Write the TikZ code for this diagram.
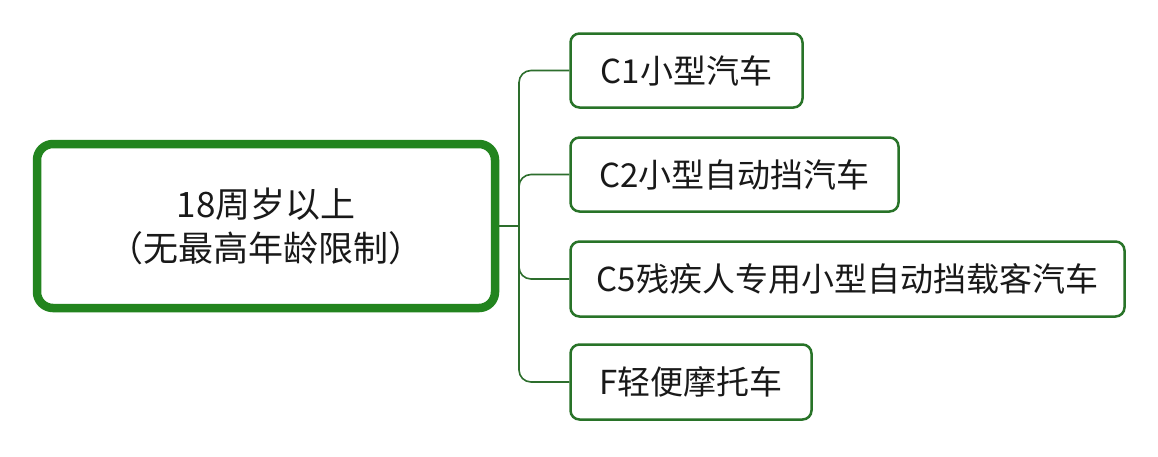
\documentclass[tikz,border=0pt]{standalone}
\usepackage{fontspec}
\setmainfont{Noto Sans CJK SC}
\definecolor{rootgreen}{RGB}{34,132,30}
\definecolor{leafgreen}{RGB}{40,115,40}
\definecolor{linkgreen}{RGB}{45,110,45}
\definecolor{txt}{RGB}{25,25,25}
\tikzset{
  rootbox/.style={draw=rootgreen, line width=8.5pt, rounded corners=16pt, fill=white,
    text=txt, align=center, font=\fontsize{35}{44}\selectfont, inner sep=0pt},
  leafbox/.style={draw=leafgreen, line width=2.5pt, rounded corners=9pt, fill=white,
    text=txt, font=\fontsize{33}{38}\selectfont, inner sep=0pt},
  conn/.style={draw=linkgreen, line width=1.6pt, rounded corners=12pt},
}
\begin{document}
\begin{tikzpicture}[x=1pt,y=-1pt]
\fill[white] (0,0) rectangle (1158,456);
\useasboundingbox (0,0) rectangle (1158,456);
\node[rootbox, minimum width=458pt, minimum height=164pt] (root) at (266,226)
  {18周岁以上\\（无最高年龄限制）};
\node[leafbox, minimum width=232pt, minimum height=74pt] (c1) at (686.5,70.5) {C1小型汽车};
\node[leafbox, minimum width=328pt, minimum height=74pt] (c2) at (734.5,174.5) {C2小型自动挡汽车};
\node[leafbox, minimum width=554pt, minimum height=75pt] (c5) at (847.5,279) {C5残疾人专用小型自动挡载客汽车};
\node[leafbox, minimum width=241pt, minimum height=75pt] (f) at (691,382) {F轻便摩托车};
\coordinate (t) at (519,226);
\draw[conn] (root.east) -- (t);
\draw[conn] (t) |- (c1.west);
\draw[conn] (t) |- (c2.west);
\draw[conn] (t) |- (c5.west);
\draw[conn] (t) |- (f.west);
\end{tikzpicture}
\end{document}
